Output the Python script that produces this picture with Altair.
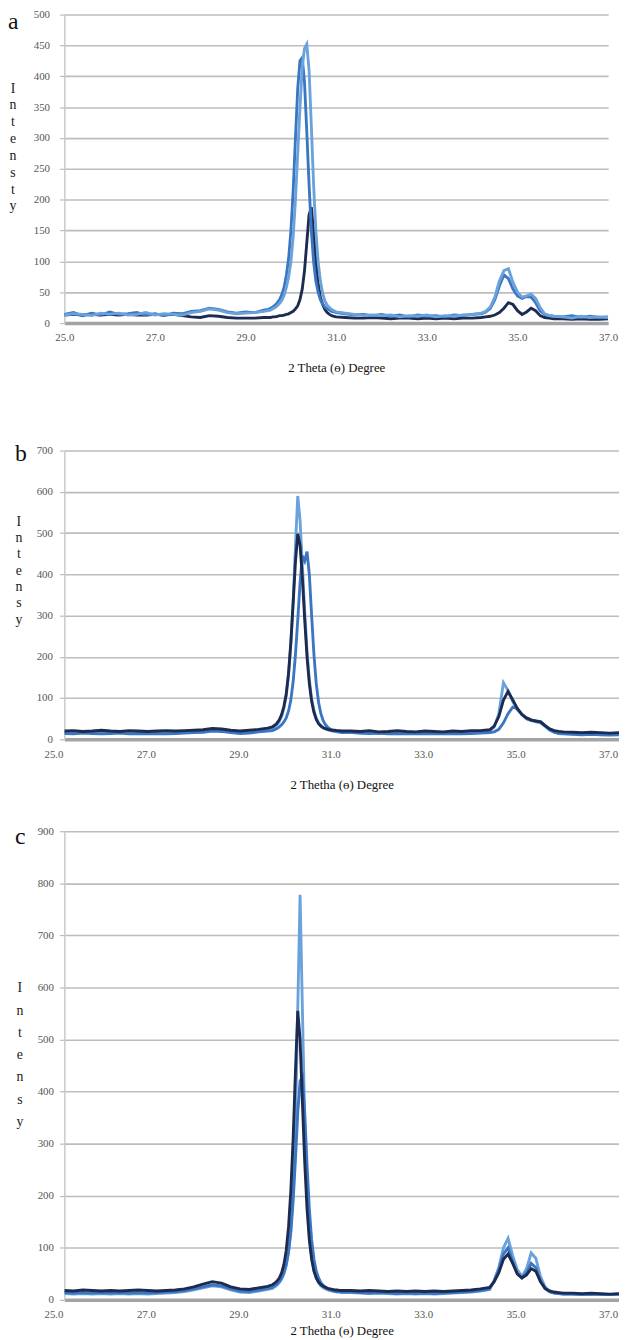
import altair as alt
import pandas as pd

# shared 2-theta sample positions (degrees)
two_theta = [
    25.0, 25.2, 25.4, 25.6, 25.8, 26.0, 26.2, 26.4, 26.6, 26.8, 27.0, 27.2, 27.4, 27.6, 27.8, 28.0, 28.2, 28.4, 28.6, 28.8, 29.0, 29.2, 29.4,
    29.5, 29.55, 29.6, 29.65, 29.7, 29.75, 29.8, 29.85, 29.9, 29.95, 30.0, 30.05, 30.1, 30.15, 30.2, 30.25, 30.3, 30.35, 30.4, 30.45, 30.5, 30.55, 30.6, 30.65, 30.7, 30.75, 30.8, 30.85, 30.9, 30.95, 31.0,
    31.2, 31.4, 31.6, 31.8, 32.0, 32.2, 32.4, 32.6, 32.8, 33.0, 33.2, 33.4, 33.6, 33.8, 34.0, 34.2,
    34.3, 34.4, 34.5, 34.6, 34.7, 34.8, 34.9, 35.0, 35.1, 35.2, 35.3, 35.4, 35.5, 35.6, 35.7, 35.8,
    36.0, 36.2, 36.4, 36.6, 36.8, 37.0,
]

# panel a
a_dark = [
    13, 14, 13, 14, 13, 14, 13, 14, 13, 13, 14, 13, 14, 12, 10, 9, 12, 11, 9, 8, 8, 8, 9,
    9, 9, 10, 10, 11, 12, 12, 13, 14, 15, 17, 19, 23, 28, 38, 55, 85, 130, 175, 188, 150, 100, 65, 42, 30, 22, 17, 14, 12, 11, 10,
    9, 8, 8, 9, 8, 7, 8, 8, 7, 8, 7, 8, 7, 8, 8, 9,
    10, 11, 13, 17, 24, 33, 30, 20, 14, 18, 24, 20, 12, 9, 8, 7,
    7, 6, 7, 6, 6, 7,
]
a_medium = [
    14, 17, 12, 16, 13, 18, 14, 15, 17, 13, 15, 12, 16, 15, 19, 20, 24, 22, 18, 16, 18, 17, 21,
    22, 24, 26, 29, 33, 38, 46, 58, 78, 105, 150, 215, 300, 380, 425, 430, 390, 310, 225, 150, 100, 68, 50, 38, 31, 26, 23, 21, 19, 18, 17,
    15, 13, 14, 12, 14, 11, 13, 10, 13, 11, 12, 10, 13, 12, 14, 15,
    18, 24, 38, 60, 78, 72, 55, 44, 40, 43, 42, 33, 20, 14, 12, 11,
    10, 12, 9, 11, 9, 10,
]
a_light = [
    13, 15, 14, 12, 16, 14, 16, 13, 14, 17, 13, 15, 14, 13, 17, 19, 23, 21, 17, 15, 16, 17, 19,
    20, 21, 23, 25, 28, 32, 37, 45, 58, 75, 100, 140, 200, 275, 350, 415, 445, 452, 410, 320, 225, 150, 100, 68, 48, 36, 29, 25, 22, 20, 18,
    16, 14, 12, 13, 12, 13, 10, 12, 11, 13, 10, 12, 11, 13, 14, 16,
    19, 26, 42, 68, 85, 88, 66, 50, 42, 44, 47, 40, 25, 15, 12, 11,
    10, 8, 11, 9, 10, 9,
]

# panel b
b_dark = [
    20, 21, 19, 20, 22, 20, 19, 21, 20, 19, 20, 21, 20, 21, 22, 23, 26, 25, 22, 20, 22, 24, 27,
    30, 34, 39, 47, 60, 80, 110, 160, 235, 330, 430, 498, 470, 390, 290, 200, 135, 92, 65, 48, 38, 32, 28, 26, 24, 23, 22, 22, 21, 21, 20,
    20, 19, 21, 18, 19, 21, 19, 18, 20, 19, 18, 20, 19, 21, 21, 23,
    32, 55, 95, 116, 96, 75, 60, 52, 47, 44, 42, 33, 25, 21, 19, 18,
    17, 16, 17, 16, 15, 16,
]
b_medium = [
    14, 13, 15, 14, 13, 14, 15, 13, 14, 13, 14, 13, 14, 15, 16, 17, 20, 19, 16, 14, 15, 18, 20,
    21, 23, 26, 30, 35, 42, 52, 68, 95, 140, 205, 290, 380, 445, 432, 455, 400, 300, 205, 135, 90, 62, 45, 35, 29, 25, 22, 20, 19, 18, 17,
    17, 15, 14, 15, 13, 14, 13, 14, 13, 14, 13, 14, 13, 14, 15, 16,
    18, 24, 40, 62, 78, 74, 60, 50, 46, 45, 43, 34, 24, 17, 14, 13,
    12, 11, 12, 11, 10, 11,
]
b_light = [
    16, 15, 17, 16, 15, 16, 17, 15, 16, 15, 16, 15, 16, 17, 18, 19, 22, 21, 18, 16, 17, 20, 23,
    26, 30, 35, 43, 55, 75, 105, 155, 230, 335, 470, 590, 530, 420, 310, 215, 145, 98, 70, 52, 40, 33, 28, 25, 23, 21, 20, 19, 18, 17, 16,
    16, 15, 16, 14, 15, 14, 15, 14, 15, 14, 15, 14, 15, 16, 17, 19,
    30, 62, 137, 118, 92, 72, 60, 50, 45, 42, 40, 31, 22, 17, 15, 14,
    13, 12, 13, 12, 12, 13,
]

# panel c
c_dark = [
    18, 17, 19, 18, 17, 18, 17, 18, 19, 18, 17, 18, 19, 21, 25, 30, 35, 32, 25, 21, 20, 23, 26,
    29, 32, 36, 42, 52, 68, 95, 140, 210, 310, 440, 555, 500, 380, 265, 175, 115, 78, 55, 42, 34, 29, 26, 24, 22, 21, 20, 19, 19, 18, 18,
    18, 17, 18, 17, 16, 17, 16, 17, 16, 17, 16, 17, 18, 19, 21, 24,
    35, 52, 78, 88, 70, 50, 42, 48, 60, 55, 35, 22, 17, 15, 14, 13,
    13, 12, 13, 12, 11, 12,
]
c_medium = [
    14, 13, 14, 13, 14, 13, 14, 13, 14, 13, 14, 15, 16, 18, 21, 25, 29, 27, 21, 17, 16, 19, 22,
    24, 27, 30, 35, 42, 52, 68, 92, 130, 190, 270, 360, 420, 428, 360, 260, 175, 115, 78, 55, 42, 33, 28, 24, 21, 19, 18, 17, 16, 16, 15,
    15, 14, 13, 14, 13, 12, 13, 12, 13, 12, 13, 14, 15, 16, 18, 21,
    36, 58, 88, 100, 72, 50, 42, 52, 70, 62, 36, 22, 15, 13, 12, 11,
    11, 10, 11, 10, 10, 11,
]
c_light = [
    12, 11, 12, 11, 12, 11, 12, 11, 12, 11, 12, 13, 14, 16, 19, 23, 27, 25, 19, 15, 14, 17, 20,
    22, 25, 28, 33, 40, 50, 66, 92, 135, 210, 340, 560, 778, 560, 340, 200, 125, 82, 57, 42, 33, 27, 23, 21, 19, 18, 17, 16, 15, 15, 14,
    14, 13, 12, 13, 12, 11, 12, 11, 12, 11, 12, 13, 14, 15, 17, 20,
    38, 62, 100, 118, 85, 58, 45, 60, 90, 80, 45, 25, 16, 13, 12, 11,
    11, 10, 10, 11, 10, 10,
]

x_ticks = [25, 27, 29, 31, 33, 35, 37]
COLORS = {"dark": "#1c2b4f", "medium": "#3b76c2", "light": "#6aa2db"}
SERIF = "Liberation Serif"


def panel(series, ymax, ystep, width, height, xtitle, ytitle, letter,
          letter_x, letter_y, ytitle_x, ytitle_y, ytitle_lh,
          y_label_pad, x_label_offset, x_label_pad, x_title_pad, top_extend=0):
    x_enc = alt.X(
        "x:Q",
        scale=alt.Scale(domain=[25, 37], nice=False, zero=False),
        axis=alt.Axis(values=x_ticks, format=".1f", title=xtitle, grid=False,
                      ticks=False, labelPadding=x_label_pad, labelOffset=x_label_offset,
                      domainColor="#a3a3a3", domainWidth=3.5, titlePadding=x_title_pad,
                      labelFlush=False),
    )
    y_enc = alt.Y(
        "y:Q",
        scale=alt.Scale(domain=[0, ymax], nice=False, zero=True),
        axis=alt.Axis(values=list(range(0, ymax + 1, ystep)), title=None, grid=True,
                      gridColor="#bdbdbd", gridWidth=1.6, domainColor="#c9c9c9",
                      domainWidth=1.5, tickColor="#bdbdbd", tickSize=5, tickWidth=1.2,
                      labelPadding=y_label_pad),
    )
    layers = []
    for name, vals in series:
        df = pd.DataFrame({"x": two_theta, "y": vals})
        layers.append(
            alt.Chart(df).mark_line(color=COLORS[name], strokeWidth=2.9, clip=True)
            .encode(x=x_enc, y=y_enc)
        )
    layers.append(
        alt.Chart(pd.DataFrame({"t": [letter]})).mark_text(
            font=SERIF, fontSize=24, align="left", baseline="middle", color="#111"
        ).encode(x=alt.value(letter_x), y=alt.value(letter_y), text="t:N")
    )
    layers.append(
        alt.Chart(pd.DataFrame({"t": ["\n".join(list(ytitle))]})).mark_text(
            font=SERIF, fontSize=14, align="center", baseline="top", color="#222",
            lineBreak="\n", lineHeight=ytitle_lh
        ).encode(x=alt.value(ytitle_x), y=alt.value(ytitle_y), text="t:N")
    )
    if top_extend:
        layers.append(
            alt.Chart(pd.DataFrame({"k": [0]})).mark_rule(opacity=0).encode(
                x=alt.value(0), y=alt.value(-top_extend), y2=alt.value(0)
            )
        )
    return alt.layer(*layers).properties(width=width, height=height)


pa = panel([("dark", a_dark), ("medium", a_medium), ("light", a_light)],
           500, 50, 550, 312, "2 Theta (ɵ) Degree", "Intensty", "a",
           -57, 8, -52, 68, 17, 10, 0, 9, 19)
pb = panel([("light", b_light), ("medium", b_medium), ("dark", b_dark)],
           700, 100, 561, 292, "2 Thetha (ɵ) Degree", "Intensy", "b",
           -50, 4, -46, 65, 16.5, 7, -11, 9, 20, top_extend=43)
pc = panel([("light", c_light), ("medium", c_medium), ("dark", c_dark)],
           900, 100, 561, 474, "2 Thetha (ɵ) Degree", "Intensy", "c",
           -50, 6, -45, 152, 22.5, 6, -11, 9, 5)

chart = alt.vconcat(pa, pb, pc, spacing=34).properties(
    padding={"top": -7, "left": 0, "right": 0, "bottom": 0}
).configure_view(stroke=None).configure_axis(
    labelFont=SERIF, labelFontSize=11, labelColor="#555555",
    titleFont=SERIF, titleFontSize=13, titleFontWeight="normal", titleColor="#111111",
)

chart.save("out.html", embed_options={"renderer": "svg", "actions": False})
